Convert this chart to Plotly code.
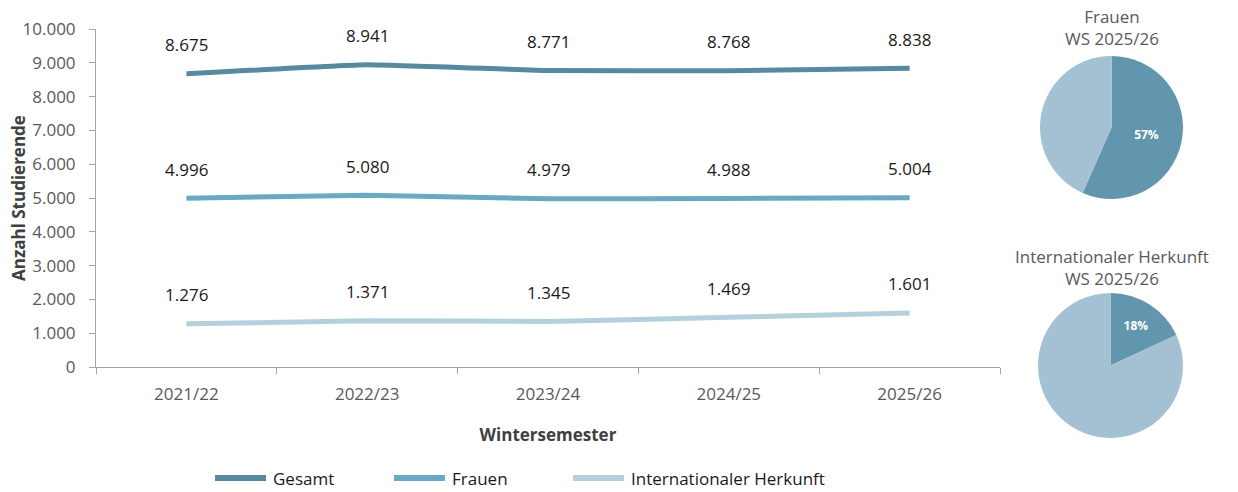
import plotly.graph_objects as go

semester = ["2021/22", "2022/23", "2023/24", "2024/25", "2025/26"]
gesamt = [8675, 8941, 8771, 8768, 8838]
frauen = [4996, 5080, 4979, 4988, 5004]
international = [1276, 1371, 1345, 1469, 1601]

series_names = ["Gesamt", "Frauen", "Internationaler Herkunft"]
series_colors = ["#588a9f", "#6aa8c3", "#b5cfdc"]

pie_frauen = [5004, 8838 - 5004]
pie_intl = [1601, 8838 - 1601]
pie_colors = ["#6196ae", "#a3c1d2"]

FONT = "Open Sans"
GREY = "#595959"
W, H = 1238, 492

fig = go.Figure()

for name, vals, col in zip(series_names, [gesamt, frauen, international], series_colors):
    fig.add_trace(go.Scatter(
        x=semester, y=vals, name=name, mode="lines",
        line=dict(color=col, width=5, shape="spline", smoothing=0.3),
        hoverinfo="skip", showlegend=False,
    ))
    for xv, yv in zip(semester, vals):
        fig.add_annotation(
            x=xv, y=yv, xref="x", yref="y",
            text=f"{yv:,}".replace(",", "."),
            showarrow=False, yshift=29,
            font=dict(family=FONT, size=17, color="#1a1a1a"),
        )

# custom legend (line sample + label)
legend_line_x = [213, 392, 571]
for name, col, lx in zip(series_names, series_colors, legend_line_x):
    fig.add_shape(type="line", xref="paper", yref="paper",
                  x0=(lx + 2) / W, x1=(lx + 53) / W, y0=1 - 478 / H, y1=1 - 478 / H,
                  line=dict(color=col, width=6))
    fig.add_annotation(x=(lx + 58) / W, y=1 - 478 / H, xref="paper", yref="paper",
                       text=name, showarrow=False, xanchor="left", yanchor="middle",
                       font=dict(family=FONT, size=17, color="#1a1a1a"))

fig.add_trace(go.Pie(
    values=pie_frauen, labels=["Frauen", "Andere"],
    marker=dict(colors=pie_colors),
    sort=False, direction="clockwise", rotation=0,
    texttemplate=["<b>%{percent:.0%}</b>", ""],
    textposition="inside",
    textfont=dict(family=FONT, size=12, color="white"),
    domain=dict(x=[1040/W, 1183/W], y=[1-199/H, 1-56/H]),
    showlegend=False, hoverinfo="skip",
))
fig.add_trace(go.Pie(
    values=pie_intl, labels=["International", "Andere"],
    marker=dict(colors=pie_colors),
    sort=False, direction="clockwise", rotation=0,
    texttemplate=["<b>%{percent:.0%}</b>", ""],
    textposition="inside",
    textfont=dict(family=FONT, size=12, color="white"),
    domain=dict(x=[1038/W, 1183/W], y=[1-438/H, 1-293/H]),
    showlegend=False, hoverinfo="skip",
))

for txt, ypix in [("Frauen<br>WS 2025/26", 27), ("Internationaler Herkunft<br>WS 2025/26", 267)]:
    fig.add_annotation(
        x=1112/W, y=1-ypix/H, xref="paper", yref="paper",
        text=txt, showarrow=False, xanchor="center", yanchor="middle",
        font=dict(family=FONT, size=17, color=GREY),
    )

# y-axis title as rotated annotation
fig.add_annotation(
    x=18/W, y=1-198/H, xref="paper", yref="paper",
    text="<b>Anzahl Studierende</b>", textangle=-90, showarrow=False,
    xanchor="center", yanchor="middle",
    font=dict(family=FONT, size=17, color="#404040"),
)

fig.update_layout(
    width=W, height=H,
    margin=dict(l=0, r=0, t=0, b=0, autoexpand=False),
    paper_bgcolor="white", plot_bgcolor="white",
    separators=",.",
    showlegend=False,
    font=dict(family=FONT, size=17, color=GREY),
    xaxis=dict(
        domain=[96/W, 1000/W], automargin=False,
        type="category", range=[-0.5, 4.5],
        showline=True, linecolor="#a6a6a6", linewidth=1,
        ticks="outside", ticklen=6, tickcolor="#a6a6a6", tickson="boundaries",
        ticklabelstandoff=12,
        showgrid=False, zeroline=False,
        tickfont=dict(family=FONT, size=17, color=GREY),
        title=dict(text="<b>Wintersemester</b>", font=dict(family=FONT, size=17, color="#404040"), standoff=24),
    ),
    yaxis=dict(
        domain=[1-367/H, 1-29/H], automargin=False,
        range=[0, 10000], dtick=1000, tickformat=",d",
        showline=True, linecolor="#a6a6a6", linewidth=1,
        ticks="outside", ticklen=6, tickcolor="#a6a6a6",
        ticklabelstandoff=10,
        showgrid=False, zeroline=False,
        tickfont=dict(family=FONT, size=17, color=GREY),
    ),
)

fig.write_html(
    "out.html",
    config={"displayModeBar": False},
    post_script="document.body.style.margin='0';document.body.style.overflow='hidden';",
)
